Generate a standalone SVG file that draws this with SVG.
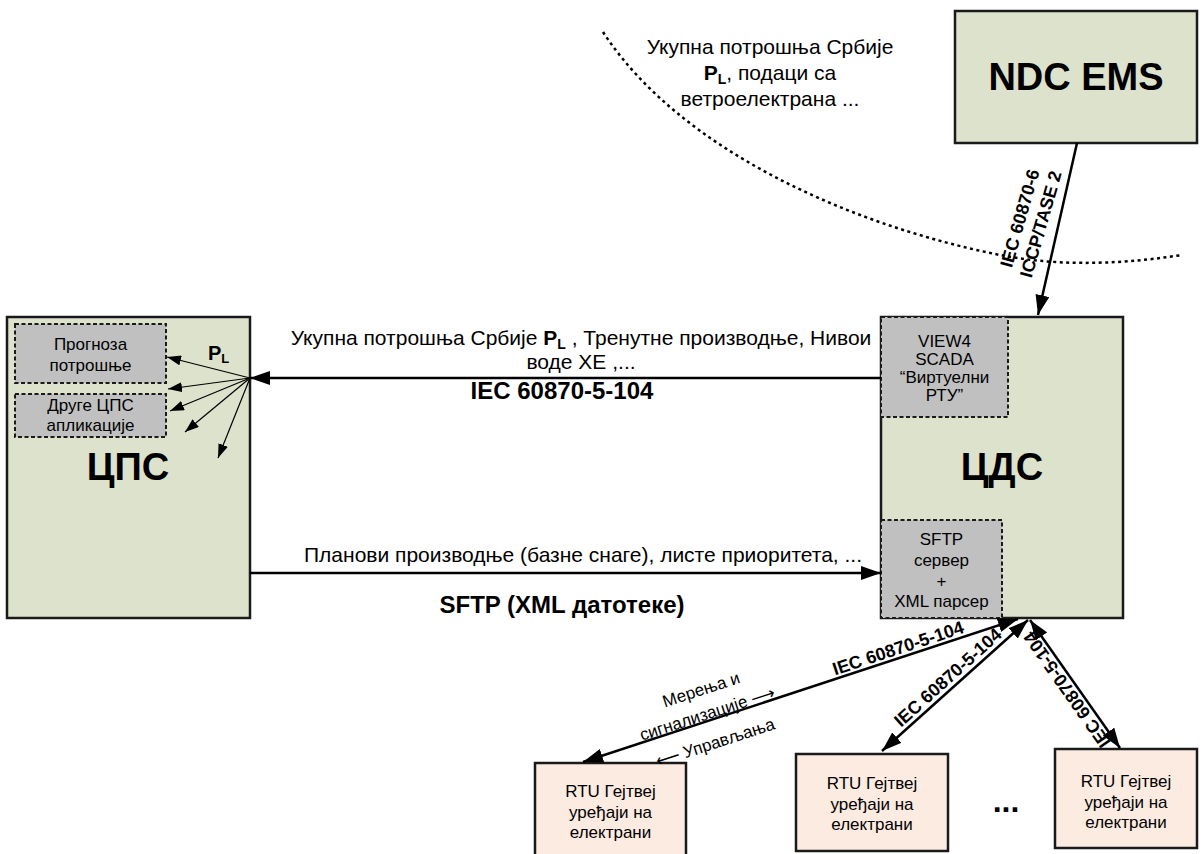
<svg xmlns="http://www.w3.org/2000/svg" width="1203" height="854" viewBox="0 0 1203 854">
<style>
text{font-family:"Liberation Sans",Arial,sans-serif;fill:#000}
.box{fill:#dde2cc;stroke:#1a1a1a;stroke-width:2.5}
.inner{fill:#c0c0c0;stroke:#1a1a1a;stroke-width:2;stroke-dasharray:4,2.5}
.rtu{fill:#fcebe0;stroke:#1a1a1a;stroke-width:2.5}
.big{font-size:38px;font-weight:bold;text-anchor:middle}
.lbl{font-size:21px;text-anchor:middle}
.blbl{font-size:24px;font-weight:bold;text-anchor:middle}
.rlbl{font-size:18px;font-weight:bold;text-anchor:middle}
.in{font-size:17px;text-anchor:middle}
.sm{font-size:17px;text-anchor:middle}
.ln{stroke:#000;stroke-width:2.5;fill:none}
.fan{stroke:#000;stroke-width:1.2;fill:none;marker-end:url(#fh)}
</style>
<defs>
<marker id="ah" viewBox="0 0 20 14" refX="20" refY="7" markerWidth="20" markerHeight="14" markerUnits="userSpaceOnUse" orient="auto-start-reverse"><path d="M0,0L20,7L0,14z" fill="#000"/></marker>
<marker id="fh" viewBox="0 0 14 10" refX="14" refY="5" markerWidth="14" markerHeight="10" markerUnits="userSpaceOnUse" orient="auto"><path d="M0,0L14,5L0,10z" fill="#000"/></marker>
</defs>
<rect width="1203" height="854" fill="#fff"/>

<!-- boundary arc -->
<path d="M603,32 C680,150 850,225 1000,255 C1050,265 1110,266 1182,255" fill="none" stroke="#000" stroke-width="2.5" stroke-dasharray="3,3.5"/>
<g id="arc-label">
<text class="lbl" x="770" y="54">Укупна потрошња Србије</text>
<text class="lbl" x="770" y="80"><tspan font-weight="bold">P</tspan><tspan font-weight="bold" font-size="14" dy="4">L</tspan><tspan dy="-4">, подаци са</tspan></text>
<text class="lbl" x="770" y="106">ветроелектрана  ...</text>
</g>

<g id="ndc">
<rect class="box" x="955" y="11" width="242" height="132"/>
<text class="big" x="1076" y="90">NDC EMS</text>
</g>

<g id="cps">
<rect class="box" x="7" y="317" width="243" height="301"/>
<rect class="inner" x="15" y="324" width="151" height="59"/>
<text class="in" x="90.5" y="350">Прогноза</text>
<text class="in" x="90.5" y="371">потрошње</text>
<rect class="inner" x="15" y="394" width="151" height="43"/>
<text class="in" x="90.5" y="411">Друге ЦПС</text>
<text class="in" x="90.5" y="431">апликације</text>
<text x="208" y="360" font-size="20" font-weight="bold">P<tspan font-size="13" dy="3">L</tspan></text>
<text class="big" x="128" y="480">ЦПС</text>
</g>

<g id="cds">
<rect class="box" x="881" y="317" width="242" height="301"/>
<rect class="inner" x="881" y="317" width="127" height="100"/>
<text class="in" x="944.5" y="347">VIEW4</text>
<text class="in" x="944.5" y="365">SCADA</text>
<text class="in" x="944.5" y="383">“Виртуелни</text>
<text class="in" x="944.5" y="401">РТУ”</text>
<rect class="inner" x="881" y="520" width="121" height="98"/>
<text class="in" x="941.5" y="545">SFTP</text>
<text class="in" x="941.5" y="566">сервер</text>
<text class="in" x="941.5" y="587">+</text>
<text class="in" x="941.5" y="607">XML парсер</text>
<text class="big" x="1002" y="480">ЦДС</text>
</g>

<g id="rtu1">
<rect class="rtu" x="535" y="763" width="151" height="95"/>
<text class="sm" x="610.5" y="797">RTU Гејтвеј</text>
<text class="sm" x="610.5" y="818">уређаји на</text>
<text class="sm" x="610.5" y="838">електрани</text>
</g>
<g id="rtu2">
<rect class="rtu" x="796" y="754" width="152" height="97"/>
<text class="sm" x="872" y="789">RTU Гејтвеј</text>
<text class="sm" x="872" y="810">уређаји на</text>
<text class="sm" x="872" y="830">електрани</text>
</g>
<g id="rtu3">
<rect class="rtu" x="1055" y="749" width="142" height="99"/>
<text class="sm" x="1126" y="787">RTU Гејтвеј</text>
<text class="sm" x="1126" y="808">уређаји на</text>
<text class="sm" x="1126" y="828">електрани</text>
</g>
<text x="1006" y="812" font-size="32" font-weight="bold" text-anchor="middle">...</text>

<g id="connectors">
<line class="ln" x1="1077" y1="143" x2="1038" y2="315" marker-end="url(#ah)"/>
<text class="rlbl" font-size="20" transform="translate(1019,218) rotate(-74)" y="7">IEC 60870-6</text>
<text class="rlbl" font-size="20" transform="translate(1040,224) rotate(-74)" y="7">ICCP/TASE 2</text>

<line class="ln" x1="881" y1="378" x2="250" y2="378" stroke-width="2.2" marker-end="url(#ah)"/>
<text class="lbl" x="581" y="345">Укупна потрошња Србије <tspan font-weight="bold">P</tspan><tspan font-weight="bold" font-size="14" dy="4">L</tspan><tspan dy="-4"> , Тренутне производње, Нивои</tspan></text>
<text class="lbl" x="581" y="369">воде ХЕ ,...</text>
<text class="blbl" x="562" y="399">IEC 60870-5-104</text>

<line class="fan" x1="250" y1="378" x2="167" y2="357"/>
<line class="fan" x1="250" y1="378" x2="168" y2="389"/>
<line class="fan" x1="250" y1="378" x2="170" y2="411"/>
<line class="fan" x1="250" y1="378" x2="185" y2="432"/>
<line class="fan" x1="250" y1="378" x2="218" y2="458"/>

<line class="ln" x1="250" y1="573" x2="881" y2="573" stroke-width="2.2" marker-end="url(#ah)"/>
<text class="lbl" x="583" y="562">Планови производње (базне снаге), листе приоритета, ...</text>
<text class="blbl" x="562" y="613">SFTP (XML датотеке)</text>

<line class="ln" x1="583" y1="762" x2="1018" y2="619" marker-start="url(#ah)" marker-end="url(#ah)"/>
<line class="ln" x1="882" y1="751" x2="1028" y2="620" marker-start="url(#ah)" marker-end="url(#ah)"/>
<line class="ln" x1="1030" y1="620" x2="1120" y2="748" marker-start="url(#ah)" marker-end="url(#ah)"/>
<text class="rlbl" transform="translate(900,654) rotate(-18.3)">IEC 60870-5-104</text>
<text class="rlbl" transform="translate(952,682) rotate(-42)">IEC 60870-5-104</text>
<text class="rlbl" transform="translate(1072,686) rotate(235)">IEC 60870-5-104</text>
<text class="sm" transform="translate(703,695) rotate(-18)">Мерења и</text>
<text class="sm" transform="translate(709,719) rotate(-18)">сигнализације ⟶</text>
<text class="sm" transform="translate(717,748) rotate(-18)">⟵ Управљања</text>
</g>
</svg>
